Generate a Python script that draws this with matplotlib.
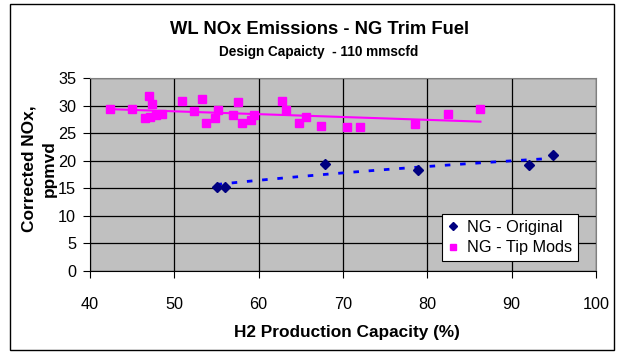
import numpy as np
import matplotlib.pyplot as plt
from matplotlib.patches import Rectangle

plt.rcParams["font.family"] = ["Liberation Sans", "DejaVu Sans"]

# ---------- data ----------
orig_x = [55.0, 56.0, 67.9, 78.9, 92.0, 94.9]
orig_y = [15.3, 15.3, 19.4, 18.3, 19.2, 21.0]

tip_x = [42.4, 45.0, 47.0, 47.4, 46.5, 47.1, 47.8, 48.5, 50.9, 52.3, 53.3, 53.7,
         55.2, 54.8, 56.9, 57.6, 58.0, 59.1, 59.5, 62.8, 63.3, 64.8, 65.6, 67.4,
         70.5, 72.0, 78.5, 82.4, 86.3]
tip_y = [29.4, 29.4, 31.8, 30.2, 27.7, 27.9, 28.2, 28.5, 30.9, 29.0, 31.2, 26.8,
         29.2, 27.8, 28.3, 30.7, 26.8, 27.3, 28.3, 30.8, 29.2, 26.8, 27.9, 26.3,
         26.1, 26.1, 26.6, 28.5, 29.4]

x_ticks = [40, 50, 60, 70, 80, 90, 100]
y_ticks = [0, 5, 10, 15, 20, 25, 30, 35]

W, H = 623, 354

# ---------- canvas ----------
fig = plt.figure(figsize=(W / 100, H / 100), dpi=100)
fig.patch.set_facecolor("white")
fig.patches.append(Rectangle((10 / W, 4 / H), 604 / W, 346 / H,
                             transform=fig.transFigure, fill=False,
                             edgecolor="black", lw=1.0))

ax = fig.add_axes([90 / W, 1 - 271 / H, 506 / W, 193 / H])
ax.set_facecolor("#C0C0C0")
ax.set_xlim(40, 100)
ax.set_ylim(0, 35)
ax.set_xticks(x_ticks)
ax.set_yticks(y_ticks)
ax.grid(True, color="black", lw=0.9)
ax.set_axisbelow(True)
for s in ["top", "right"]:
    ax.spines[s].set_color("#808080")
for s in ["left", "bottom"]:
    ax.spines[s].set_color("black")
ax.tick_params(direction="out", length=5, width=0.8, labelsize=11.7)
ax.tick_params(axis="x", pad=14)
ax.tick_params(axis="y", pad=5)

# ---------- trend lines ----------
xs = np.linspace(min(orig_x), max(orig_x), 100)
a, b = np.polyfit(np.log(orig_x), orig_y, 1)
ax.plot(xs, a * np.log(xs) + b, color="#0000FF", lw=2, ls=(0, (2, 3.5)), zorder=2)

xt = np.linspace(min(tip_x), max(tip_x), 100)
m, c = np.polyfit(tip_x, tip_y, 1)
ax.plot(xt, m * xt + c, color="#FF00FF", lw=1.5, zorder=2)

# ---------- points ----------
ax.plot(orig_x, orig_y, ls="none", marker="D", ms=5, color="#000080",
        label="NG - Original", zorder=3)
ax.plot(tip_x, tip_y, ls="none", marker="s", ms=6, color="#FF00FF",
        label="NG - Tip Mods", zorder=3)

leg = ax.legend(loc="lower right", fontsize=11.7, frameon=True,
                fancybox=False, framealpha=1, edgecolor="black",
                handlelength=0.6, handletextpad=0.6, borderpad=0.35,
                labelspacing=0.35, borderaxespad=0, markerscale=0.8)
leg.set_bbox_to_anchor((578 / W, 1 - 261 / H), transform=fig.transFigure)
leg.get_frame().set_linewidth(0.8)

# ---------- text ----------
fig.text(320 / W, 1 - 29.5 / H, "WL NOx Emissions - NG Trim Fuel",
         ha="center", va="center", fontsize=13.2, fontweight="bold")
fig.text(319 / W, 1 - 52 / H, "Design Capaicty  - 110 mmscfd",
         ha="center", va="center", fontsize=9.8, fontweight="bold")
fig.text(347 / W, 1 - 332 / H, "H2 Production Capacity (%)",
         ha="center", va="center", fontsize=12.4, fontweight="bold")
fig.text(39 / W, 1 - 169 / H, "Corrected NOx,\nppmvd", rotation=90,
         ha="center", va="center", fontsize=12.4, fontweight="bold",
         linespacing=1.5, multialignment="center")

plt.savefig("out.png", dpi=100)
